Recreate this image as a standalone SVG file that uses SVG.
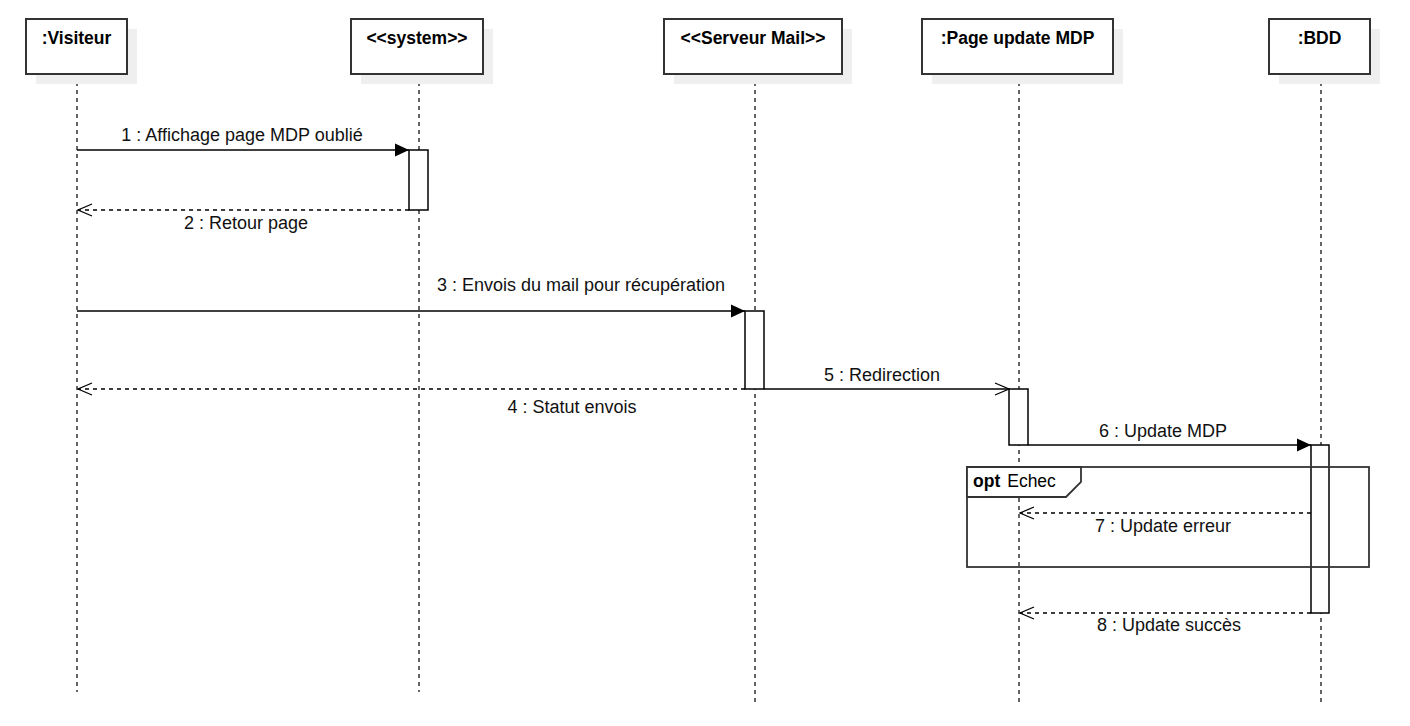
<svg xmlns="http://www.w3.org/2000/svg" width="1410" height="726" viewBox="0 0 1410 726">
  <defs>
    <marker id="filled" viewBox="0 0 14 14" refX="14" refY="7" markerWidth="14" markerHeight="14" markerUnits="userSpaceOnUse" orient="auto">
      <path d="M0,0.5 L14,7 L0,13.5 Z" fill="#000"/>
    </marker>
    <marker id="open" viewBox="0 0 16 14" refX="15" refY="7" markerWidth="16" markerHeight="14" markerUnits="userSpaceOnUse" orient="auto">
      <path d="M1,1 L15,7 L1,13" fill="none" stroke="#000" stroke-width="1.3"/>
    </marker>
  </defs>
  <style>
    .shadow { fill: #efefef; }
    .head { fill: #fff; stroke: #333; stroke-width: 2; }
    .title { font-family: "Liberation Sans", Arial, sans-serif; font-weight: bold; font-size: 17.5px; fill: #000; text-anchor: middle; }
    .life { stroke: #333; stroke-width: 1.5; stroke-dasharray: 4 4; fill: none; }
    .act { fill: #fff; stroke: #000; stroke-width: 1.5; }
    .call { stroke: #000; stroke-width: 1.5; fill: none; marker-end: url(#filled); }
    .async { stroke: #000; stroke-width: 1.5; fill: none; marker-end: url(#open); }
    .reply { stroke: #000; stroke-width: 1.5; fill: none; stroke-dasharray: 4 4; marker-end: url(#open); }
    .lbl { font-family: "Liberation Sans", Arial, sans-serif; font-size: 18px; fill: #111; text-anchor: middle; }
    .frame { fill: none; stroke: #333; stroke-width: 1.8; }
    .tab { fill: #fff; stroke: #333; stroke-width: 1.8; }
  </style>

  <rect width="1410" height="726" fill="#fff"/>

  <!-- lifelines -->
  <g id="lifelines">
    <line class="life" x1="77" y1="74" x2="77" y2="692"/>
    <line class="life" x1="419" y1="74" x2="419" y2="692"/>
    <line class="life" x1="755" y1="74" x2="755" y2="702"/>
    <line class="life" x1="1019" y1="74" x2="1019" y2="702"/>
    <line class="life" x1="1321" y1="74" x2="1321" y2="702"/>
  </g>

  <!-- participants -->
  <g id="visiteur">
    <rect class="shadow" x="36" y="29" width="101" height="55"/>
    <rect class="head" x="26" y="19" width="101" height="55"/>
    <text class="title" x="76.5" y="44">:Visiteur</text>
  </g>
  <g id="system">
    <rect class="shadow" x="361" y="29" width="132" height="55"/>
    <rect class="head" x="351" y="19" width="132" height="55"/>
    <text class="title" x="417" y="44">&lt;&lt;system&gt;&gt;</text>
  </g>
  <g id="serveur-mail">
    <rect class="shadow" x="674" y="29" width="178" height="55"/>
    <rect class="head" x="664" y="19" width="178" height="55"/>
    <text class="title" x="753" y="44">&lt;&lt;Serveur Mail&gt;&gt;</text>
  </g>
  <g id="page-update">
    <rect class="shadow" x="932" y="29" width="191" height="55"/>
    <rect class="head" x="922" y="19" width="191" height="55"/>
    <text class="title" x="1017.5" y="44">:Page update MDP</text>
  </g>
  <g id="bdd">
    <rect class="shadow" x="1279" y="29" width="101" height="55"/>
    <rect class="head" x="1269" y="19" width="101" height="55"/>
    <text class="title" x="1319.5" y="44">:BDD</text>
  </g>

  <!-- activation bars -->
  <g id="activations">
    <rect class="act" x="409" y="150" width="19" height="60"/>
    <rect class="act" x="745" y="311" width="19" height="78"/>
    <rect class="act" x="1009" y="389" width="19" height="56"/>
    <rect class="act" x="1311" y="445" width="18" height="168"/>
  </g>

  <!-- combined fragment, drawn over the activation bar; the tab hides the lifeline behind its label -->
  <g id="opt-fragment">
    <rect class="frame" x="967" y="467" width="402" height="100"/>
    <path class="tab" d="M967,467 L1081,467 L1081,482 L1066,497 L967,497 Z"/>
    <text x="973" y="487" font-family="Liberation Sans, Arial, sans-serif" font-size="17.5" fill="#000"><tspan font-weight="bold">opt</tspan><tspan dx="7">Echec</tspan></text>
  </g>

  <!-- messages -->
  <g id="connectors">
    <line class="call" x1="77" y1="150" x2="409" y2="150"/>
    <line class="reply" x1="409" y1="210" x2="78" y2="210"/>
    <line class="call" x1="77" y1="311" x2="745" y2="311"/>
    <line class="reply" x1="745" y1="389" x2="78" y2="389"/>
    <line class="async" x1="764" y1="389" x2="1009" y2="389"/>
    <line class="call" x1="1028" y1="445" x2="1311" y2="445"/>
    <line class="reply" x1="1311" y1="513" x2="1020" y2="513"/>
    <line class="reply" x1="1311" y1="613" x2="1020" y2="613"/>
  </g>

  <!-- message labels -->
  <g id="labels">
    <text class="lbl" x="242" y="141">1 : Affichage page MDP oublié</text>
    <text class="lbl" x="246" y="229">2 : Retour page</text>
    <text class="lbl" x="581" y="291">3 : Envois du mail pour récupération</text>
    <text class="lbl" x="572" y="413">4 : Statut envois</text>
    <text class="lbl" x="882" y="381">5 : Redirection</text>
    <text class="lbl" x="1163" y="437">6 : Update MDP</text>
    <text class="lbl" x="1163" y="532">7 : Update erreur</text>
    <text class="lbl" x="1169" y="631">8 : Update succès</text>
  </g>
</svg>
